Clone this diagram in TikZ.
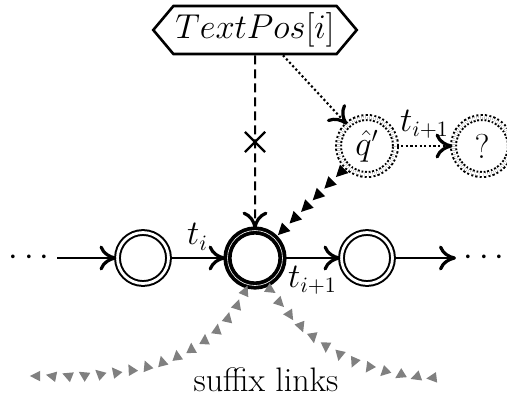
\documentclass[tikz,border=0pt]{standalone}
\usetikzlibrary{positioning, arrows.meta, shapes.symbols, shapes.misc, decorations.markings}
\tikzstyle{plain}=[circle, draw=black, double, line width=1pt, double distance=1.4pt, minimum size=25.5pt, inner sep=0pt]
\tikzstyle{cur}=[circle, draw=black, double, line width=1.9pt, double distance=0.3pt, minimum size=27.5pt, inner sep=0pt]
\tikzstyle{ghost}=[circle, draw=black, double, line width=1pt, double distance=1.5pt, dash pattern=on 1pt off 1pt, minimum size=28.5pt, inner sep=0pt]
\tikzstyle{textpos}=[signal, signal to=west and east, signal pointer angle=100, draw=black, line width=1.3pt, minimum width=100pt, minimum height=24pt, inner sep=1pt]
\tikzstyle{cut}=[cross out, draw=black, solid, line width=1.1pt, minimum size=9pt, inner sep=0pt]
\tikzstyle{dots}=[line width=1.1pt, dash pattern=on 1.1pt off 1.2pt]
\tikzset{
  tripath/.style n args={3}{postaction={decorate, decoration={markings,
      mark=between positions #1 with {
        \pgfmathsetmacro\markfrac{\pgfkeysvalueof{/pgf/decoration/mark info/distance from start}/\pgfdecoratedpathlength}
        \pgfmathsetmacro\twist{#3}
        \fill[#2, rotate=\twist] (2.5pt,0) -- (-2pt,2.3pt) -- (-2pt,-2.3pt) -- cycle;}}}}
}
\begin{document}
\begin{tikzpicture}[node distance=56pt, on grid, line width=1.2pt,
    font=\fontsize{16pt}{19pt}\selectfont,
    >={Computer Modern Rightarrow[length=8.5pt, width=12.5pt, line width=1.6pt]}]
  \useasboundingbox (-127.5pt,-72.5pt) rectangle (126pt,129pt);
  %main row of states
  \node[cur](c) at (0,0){};
  \node[plain, left = of c](s1){};
  \node[plain, right = of c](s3){};
  \node[left = 57pt of s1](dl){$\cdots$};
  \node[right = 58.5pt of s3](dr){$\cdots$};
  \draw[->] (dl) -- (s1);
  \draw[->] (s1) -- node[above](ti){$t_i$} (c);
  \draw[->] (c) -- node[below](tn){$t_{i+1}$} (s3);
  \draw[->] (s3) -- (dr);

  %guessed states
  \node[ghost, above right = 56pt and 56pt of c](qh){$\hat{q}'$};
  \node[ghost, right = 57.5pt of qh](qn){$?$};
  \draw[->, dots] (qh) -- node[above](tq){$t_{i+1}$} (qn);
  \path[tripath={0.08 and 0.95 step 0.165}{black, scale=1.3}{0}] (qh) -- (c);

  %text position
  \node[textpos, above = 114pt of c](tp){$TextPos[i]$};
  \draw[->, line width=1pt, dash pattern=on 4.5pt off 2.5pt] (tp) -- node[cut](x){} (c);
  \draw[->, dots] ([xshift=14pt]tp.south) -- (qh);

  %suffix links
  \coordinate[below left = 59pt and 110pt of c](sl);
  \coordinate[below right = 60pt and 92.5pt of c](sr);
  \path[tripath={0.02 and 1 step 8pt}{gray, scale=1.15}{180+180*\markfrac}] (c.-105) to[out=-115, in=0] (sl);
  \path[tripath={0.03 and 1 step 8pt}{gray, scale=1.15}{30-210*\markfrac}] (c.-65) to[out=-58, in=180] (sr);
  \node[below = 61pt of c, xshift=5.5pt, font=\fontsize{17pt}{20pt}\selectfont](sfx){suffix links};
\end{tikzpicture}
\end{document}
